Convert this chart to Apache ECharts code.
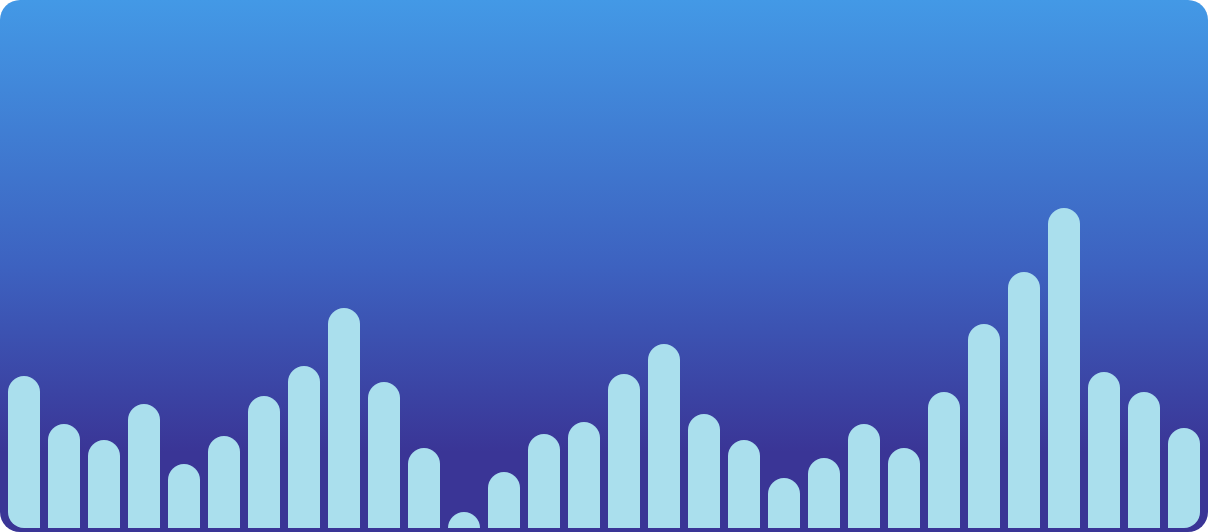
<!DOCTYPE html>
<html>
<head>
<meta charset="utf-8">
<script src="https://cdn.jsdelivr.net/npm/echarts@6/dist/echarts.min.js"></script>
<style>
  html, body { margin: 0; padding: 0; background: #ffffff; }
  #chart {
    width: 1208px; height: 532px;
    border-radius: 20px; overflow: hidden;
    background: linear-gradient(to bottom, #4399e6 0%, #3d62c0 50%, #3a3596 85%, #3a3596 100%);
  }
</style>
</head>
<body>
<div id="chart"></div>
<script>
const categories = Array.from({length: 30}, (_, i) => 'Item ' + (i + 1));
const values = [76, 52, 44, 62, 32, 46, 66, 81, 110, 73,
                40, 8, 28, 47, 53, 77, 92, 57, 44, 25,
                35, 52, 40, 68, 102, 128, 160, 78, 68, 50];
const yMax = 264;
const barColor = '#aadfed';

const data = values.map((v, i) => {
  let r = [16, 16, 0, 0];
  if (i === 0) r = [16, 16, 0, 16];
  if (i === values.length - 1) r = [16, 16, 16, 0];
  return { value: v, itemStyle: { borderRadius: r } };
});

const chart = echarts.init(document.getElementById('chart'), null, { renderer: 'canvas' });
chart.setOption({
  backgroundColor: 'transparent',
  animation: false,
  grid: { left: 4, right: 4, top: 0, bottom: 4, containLabel: false },
  xAxis: { type: 'category', data: categories, show: false },
  yAxis: { type: 'value', min: 0, max: yMax, show: false },
  series: [{
    type: 'bar',
    data: data,
    barWidth: 32,
    itemStyle: { color: barColor }
  }]
});
</script>
</body>
</html>
